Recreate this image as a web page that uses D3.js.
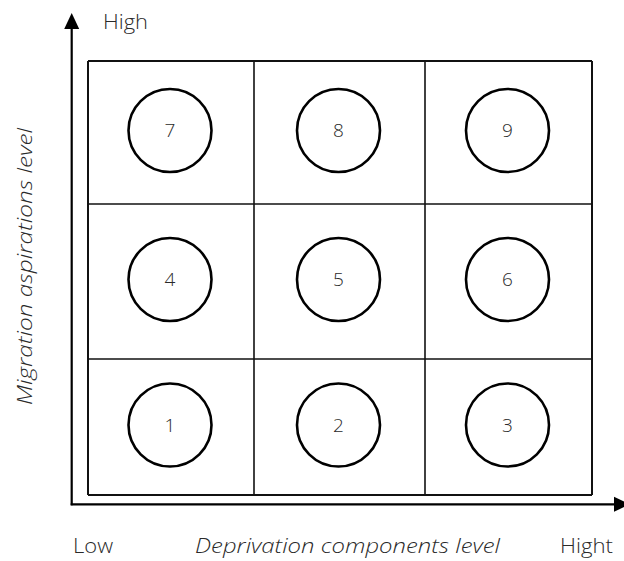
<!DOCTYPE html>
<html><head><meta charset="utf-8">
<script src="https://cdn.jsdelivr.net/npm/d3@7"></script>
<style>body{margin:0;background:#fff}svg{display:block}text{font-family:"Open Sans",sans-serif;font-weight:300;fill:#2a2a2a}</style>
</head><body><svg id="c" width="624" height="561"></svg>
<script>
const columns = ["Low", "Medium", "High"];      // deprivation components level
const rows = ["Low", "Medium", "High"];         // migration aspirations level
const cellNumbers = [[1,2,3],[4,5,6],[7,8,9]];  // rows bottom→top, columns left→right
const xAxisTitle = "Deprivation components level";
const yAxisTitle = "Migration aspirations level";
const xEndLabels = ["Low", "Hight"];
const yEndLabel = "High";

const svg = d3.select("#c");
const x = d3.scaleLinear().domain([0,1,2,3]).range([88,254,425,592]);
const y = d3.scaleLinear().domain([0,1,2,3]).range([495,359,204,61]);

// grid
const g = svg.append("g");
[0,1,2,3].forEach(i=>{
  g.append("line").attr("x1",x(i)).attr("x2",x(i)).attr("y1",y(0)).attr("y2",y(3))
    .attr("stroke","#111").attr("stroke-width",(i==0||i==3)?2:1.6);
  g.append("line").attr("y1",y(i)).attr("y2",y(i)).attr("x1",x(0)).attr("x2",x(3))
    .attr("stroke","#111").attr("stroke-width",(i==0||i==3)?2:1.6);
});

// circles
const cells = [];
cellNumbers.forEach((r,ri)=>r.forEach((n,ci)=>cells.push({n,ri,ci})));
const cg = svg.append("g").selectAll("g").data(cells).join("g")
  .attr("transform",d=>`translate(${(x(d.ci)+x(d.ci+1))/2-1},${(y(d.ri)+y(d.ri+1))/2-2})`);
cg.append("circle").attr("r",41.5).attr("fill","none").attr("stroke","#000").attr("stroke-width",2.6);
cg.append("text").attr("text-anchor","middle").attr("dy","0.36em").style("font-size","19px").text(d=>d.n);

// axes
const ax = 71.7, ay = 504.3;
svg.append("line").attr("x1",ax).attr("x2",ax).attr("y1",ay+1).attr("y2",24).attr("stroke","#000").attr("stroke-width",2.2);
svg.append("line").attr("x1",ax-1).attr("x2",614).attr("y1",ay).attr("y2",ay).attr("stroke","#000").attr("stroke-width",2.2);
svg.append("path").attr("d",`M${ax},13 L${ax-7.5},29 L${ax+7.5},29 Z`).attr("fill","#000");
svg.append("path").attr("d",`M630,${ay} L614,${ay-7.5} L614,${ay+7.5} Z`).attr("fill","#000");

// labels
const lab = (t,x0,y0,len,italic)=>svg.append("text").attr("x",x0).attr("y",y0)
  .style("font-size","21px").style("font-style",italic?"italic":"normal")
  .attr("textLength",len).attr("lengthAdjust","spacingAndGlyphs").text(t);
lab(yEndLabel,103,29,45);
lab(xEndLabels[0],73,553,40);
lab(xEndLabels[1],560,553,53);
lab(xAxisTitle,195,553,305,true);
svg.append("text").attr("transform","translate(32,405) rotate(-90)")
  .style("font-size","21px").style("font-style","italic")
  .attr("textLength",277).attr("lengthAdjust","spacingAndGlyphs").text(yAxisTitle);
</script></body></html>
